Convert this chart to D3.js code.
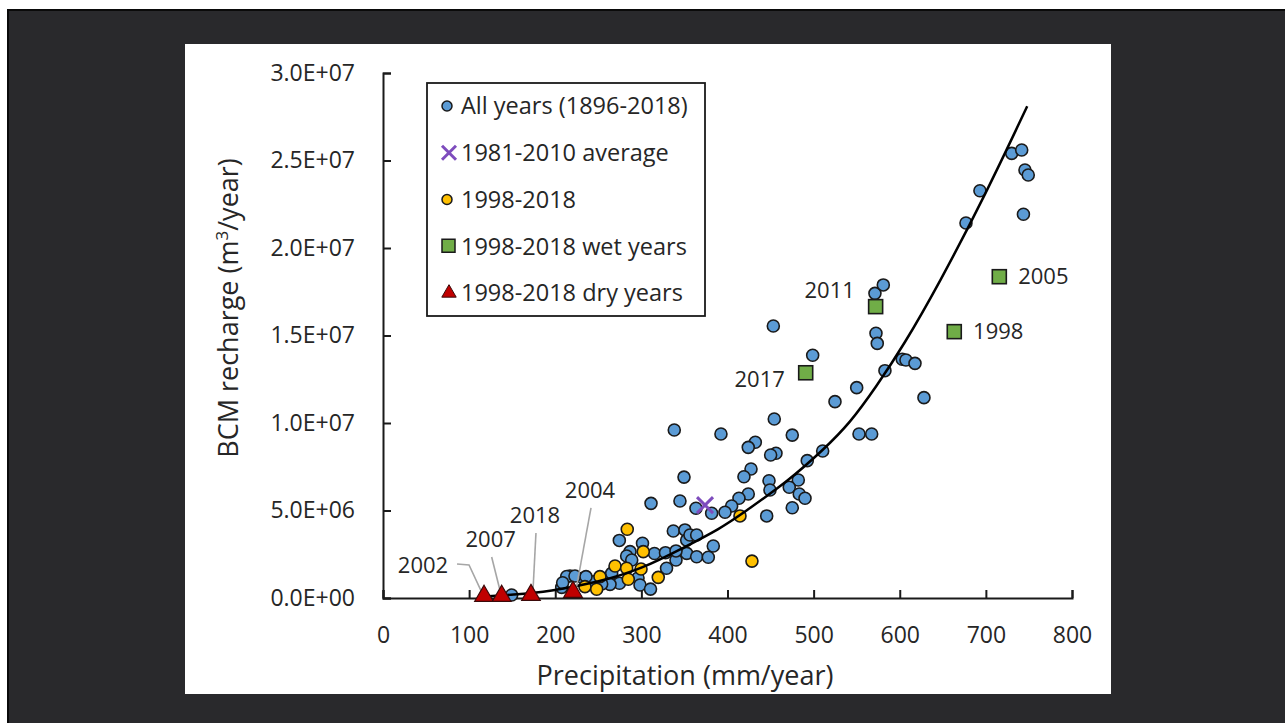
<!DOCTYPE html>
<html>
<head>
<style>
  body { margin: 0; background: #fff; }
  svg text { font-family: "Open Sans", "DejaVu Sans", sans-serif; fill: #262626; }
</style>
<script src="https://cdn.jsdelivr.net/npm/d3@7"></script>
</head>
<body>
<svg width="1285" height="723"></svg>
<script>
// precipitation (mm/year) and BCM recharge (m3/year), all years 1896-2018
var allPrecip = [730.0, 741.6, 745.4, 749.2, 693.1, 676.9, 743.6, 571.2, 580.9, 453.2, 572.4, 573.9, 498.9, 602.9, 607.2,
  617.7, 582.8, 550.0, 524.8, 628.1, 454.3, 338.2, 392.4, 475.2, 552.7, 567.4, 432.3, 424.1, 456.3, 450.1, 510.5, 492.6,
  427.3, 419.1, 349.5, 448.2, 449.3, 482.2, 471.7, 483.3, 490.0, 424.1, 413.3, 404.8, 397.1, 381.6, 363.4, 475.2, 445.5,
  311.2, 344.8, 337.1, 350.6, 274.4, 383.5, 352.6, 356.4, 364.2, 301.3, 286.8, 282.9, 315.2, 328.0, 352.6, 364.2, 377.7,
  340.2, 288.8, 329.2, 296.1, 298.4, 310.6, 261.6, 265.5, 274.6, 263.6, 244.2, 232.6, 217.1, 213.3, 222.9, 235.7, 207.5,
  208.6, 149.4, 253.9, 340.2];
var allRecharge = [25.41e6, 25.6e6, 24.46e6, 24.17e6, 23.27e6, 21.43e6, 21.93e6, 17.41e6, 17.89e6, 15.54e6, 15.13e6, 14.55e6,
  13.87e6, 13.64e6, 13.6e6, 13.41e6, 12.99e6, 12.02e6, 11.22e6, 11.45e6, 10.23e6, 9.6e6, 9.37e6, 9.31e6, 9.37e6, 9.37e6,
  8.9e6, 8.61e6, 8.27e6, 8.17e6, 8.4e6, 7.85e6, 7.37e6, 6.93e6, 6.91e6, 6.7e6, 6.17e6, 6.74e6, 6.33e6, 5.94e6, 5.7e6,
  5.94e6, 5.7e6, 5.26e6, 4.9e6, 4.84e6, 5.13e6, 5.16e6, 4.69e6, 5.41e6, 5.54e6, 3.83e6, 3.89e6, 3.29e6, 2.97e6, 3.31e6,
  3.6e6, 3.6e6, 3.13e6, 2.65e6, 2.4e6, 2.54e6, 2.59e6, 2.55e6, 2.36e6, 2.33e6, 2.17e6, 2.17e6, 1.7e6, 1.14e6, 0.74e6,
  0.51e6, 1.03e6, 1.41e6, 0.84e6, 0.78e6, 0.93e6, 1.13e6, 1.26e6, 1.23e6, 1.26e6, 1.22e6, 0.61e6, 0.87e6, 0.17e6,
  0.8e6, 2.69e6];

// 1981-2010 average
var avgPrecip = [373.9];
var avgRecharge = [5.31e6];

// 1998-2018
var recentPrecip = [283.6, 302.2, 269.4, 282.9, 299.6, 319.6, 284.8, 251.9, 234.5, 248.1, 414.5, 428.4];
var recentRecharge = [3.93e6, 2.65e6, 1.83e6, 1.7e6, 1.66e6, 1.18e6, 1.07e6, 1.22e6, 0.65e6, 0.5e6, 4.69e6, 2.11e6];

// 1998-2018 wet years
var wetYears = ["2011", "2017", "1998", "2005"];
var wetPrecip = [572.0, 490.8, 663.3, 715.6];
var wetRecharge = [16.65e6, 12.87e6, 15.22e6, 18.36e6];

// 1998-2018 dry years
var dryYears = ["2002", "2007", "2018", "2004"];
var dryPrecip = [117.3, 137.8, 171.8, 220.6];
var dryRecharge = [0.06e6, 0.06e6, 0.11e6, 0.29e6];

// trend line
var trendPrecip = [117, 150, 194, 250, 300, 350, 391, 418, 472, 511, 542, 573, 604, 645, 700, 748];
var trendRecharge = [0.08e6, 0.18e6, 0.38e6, 0.9e6, 1.65e6, 2.9e6, 3.95e6, 4.85e6, 6.74e6, 8.46e6, 9.98e6, 12.1e6,
  14.4e6, 17.9e6, 23.1e6, 28.1e6];

var xTicks = [0, 100, 200, 300, 400, 500, 600, 700, 800];
var yTicks = [0, 5e6, 10e6, 15e6, 20e6, 25e6, 30e6];

var legendLabels = ["All years (1896-2018)", "1981-2010 average", "1998-2018", "1998-2018 wet years", "1998-2018 dry years"];

// label placement in px relative to marker (layout only)
var wetLabelOffset = { "2011": [-46, -16], "2017": [-46, 7], "1998": [44, 0], "2005": [44, 0] };
var dryLabelOffset = {
  "2002": { text: [-61, -32], line: [[-27, -33], [-15, -32], [-2, -4]] },
  "2007": { text: [-11, -58], line: [[-10, -40], [-1, -4]] },
  "2018": { text: [4, -81], line: [[5, -63], [2, -5]] },
  "2004": { text: [17, -103], line: [[18, -85], [3, -3]] }
};

var svg = d3.select("svg");

// slide background
svg.append("rect").attr("x", 8).attr("y", 10).attr("width", 1290).attr("height", 720)
  .attr("fill", "#29292c").attr("stroke", "#0a0a0a").attr("stroke-width", 2);
svg.append("rect").attr("x", 185).attr("y", 44).attr("width", 926).attr("height", 650).attr("fill", "#fff");

var x = d3.scaleLinear().domain([0, 800]).range([383, 1072]);
var y = d3.scaleLinear().domain([0, 3e7]).range([598, 73]);

function sci(v) {
  if (v === 0) return "0.0E+00";
  var e = Math.floor(Math.log10(v));
  var m = v / Math.pow(10, e);
  return m.toFixed(1) + "E+" + (e < 10 ? "0" + e : e);
}

// axes
var xAxis = svg.append("g").attr("transform", "translate(0," + y(0) + ")")
  .call(d3.axisBottom(x).tickValues(xTicks).tickSizeInner(-8).tickSizeOuter(-8).tickPadding(28).tickFormat(d3.format("d")));
var yAxis = svg.append("g").attr("transform", "translate(" + x(0) + ",0)")
  .call(d3.axisLeft(y).tickValues(yTicks).tickSizeInner(-8).tickSizeOuter(-8).tickPadding(28).tickFormat(sci));
[xAxis, yAxis].forEach(function(a) {
  a.selectAll("path, line").attr("stroke", "#1a1a1a").attr("stroke-width", 2);
  a.selectAll("text").style("font-size", "23px").attr("fill", "#262626").style("font-family", '"Open Sans", sans-serif');
});
xAxis.selectAll("text").attr("dy", "0.35em").attr("y", 37);

svg.append("text").attr("x", 685).attr("y", 685).attr("text-anchor", "middle")
  .style("font-size", "27px").text("Precipitation (mm/year)");
var yt = svg.append("text").attr("transform", "translate(238,308) rotate(-90)").attr("text-anchor", "middle")
  .style("font-size", "27px");
yt.append("tspan").text("BCM recharge (m");
yt.append("tspan").attr("dy", -10).style("font-size", "17px").text("3");
yt.append("tspan").attr("dy", 10).text("/year)");

var circleStroke = "#1a1a1a";

// all years
var all = allPrecip.map(function(p, i) { return [p, allRecharge[i]]; });
svg.append("g").selectAll("circle").data(all).enter().append("circle")
  .attr("cx", function(d) { return x(d[0]); })
  .attr("cy", function(d) { return y(d[1]); })
  .attr("r", 6).attr("fill", "#5b9bd5").attr("stroke", circleStroke).attr("stroke-width", 1.6);

// 1998-2018
var recent = recentPrecip.map(function(p, i) { return [p, recentRecharge[i]]; });
svg.append("g").selectAll("circle").data(recent).enter().append("circle")
  .attr("cx", function(d) { return x(d[0]); })
  .attr("cy", function(d) { return y(d[1]); })
  .attr("r", 6).attr("fill", "#ffc000").attr("stroke", circleStroke).attr("stroke-width", 1.6);

// trend line
var trend = trendPrecip.map(function(p, i) { return [p, trendRecharge[i]]; });
svg.append("path").datum(trend)
  .attr("d", d3.line().x(function(d) { return x(d[0]); }).y(function(d) { return y(d[1]); }).curve(d3.curveBasis))
  .attr("fill", "none").attr("stroke", "#000").attr("stroke-width", 2.5);

// average
var xPath = "M-8,-8L8,8M-8,8L8,-8";
svg.append("g").selectAll("path").data(avgPrecip).enter().append("path")
  .attr("transform", function(d, i) { return "translate(" + x(d) + "," + y(avgRecharge[i]) + ")"; })
  .attr("d", xPath).attr("stroke", "#7e4cbd").attr("stroke-width", 3).attr("fill", "none");

// dry years: leaders, markers, labels
var triangle = d3.symbol().type(d3.symbolTriangle).size(150);
dryYears.forEach(function(yr, i) {
  var cx = x(dryPrecip[i]), cy = y(dryRecharge[i]);
  var o = dryLabelOffset[yr];
  svg.append("polyline")
    .attr("points", o.line.map(function(p) { return (cx + p[0]) + "," + (cy + p[1]); }).join(" "))
    .attr("fill", "none").attr("stroke", "#a6a6a6").attr("stroke-width", 1.6);
  svg.append("text").attr("x", cx + o.text[0]).attr("y", cy + o.text[1]).attr("dy", "0.35em")
    .attr("text-anchor", "middle").style("font-size", "22px").text(yr);
});
svg.append("g").selectAll("path").data(dryPrecip).enter().append("path")
  .attr("transform", function(d, i) { return "translate(" + x(d) + "," + (y(dryRecharge[i]) - 1) + ")"; })
  .attr("d", triangle).attr("fill", "#c00000").attr("stroke", "#3b0a0a").attr("stroke-width", 1.2);

// wet years
svg.append("g").selectAll("rect").data(wetPrecip).enter().append("rect")
  .attr("x", function(d) { return x(d) - 7; })
  .attr("y", function(d, i) { return y(wetRecharge[i]) - 7; })
  .attr("width", 14).attr("height", 14)
  .attr("fill", "#70ad47").attr("stroke", circleStroke).attr("stroke-width", 1.6);
wetYears.forEach(function(yr, i) {
  var o = wetLabelOffset[yr];
  svg.append("text").attr("x", x(wetPrecip[i]) + o[0]).attr("y", y(wetRecharge[i]) + o[1]).attr("dy", "0.35em")
    .attr("text-anchor", "middle").style("font-size", "22px").text(yr);
});

// legend
var lg = svg.append("g");
lg.append("rect").attr("x", 427).attr("y", 83).attr("width", 278).attr("height", 233)
  .attr("fill", "#fff").attr("stroke", "#1a1a1a").attr("stroke-width", 1.8);
var rowY = d3.scalePoint().domain(d3.range(legendLabels.length)).range([106, 293]);
legendLabels.forEach(function(lab, i) {
  var ly = rowY(i), lx = 447;
  if (i === 0 || i === 2) {
    lg.append("circle").attr("cx", lx).attr("cy", ly).attr("r", 5)
      .attr("fill", i === 0 ? "#5b9bd5" : "#ffc000").attr("stroke", circleStroke).attr("stroke-width", 1.5);
  } else if (i === 1) {
    lg.append("path").attr("transform", "translate(" + (lx + 2) + "," + ly + ")").attr("d", "M-7,-7L7,7M-7,7L7,-7")
      .attr("stroke", "#7e4cbd").attr("stroke-width", 3);
  } else if (i === 3) {
    lg.append("rect").attr("x", lx - 5).attr("y", ly - 7).attr("width", 13).attr("height", 13)
      .attr("fill", "#70ad47").attr("stroke", circleStroke).attr("stroke-width", 1.5);
  } else {
    lg.append("path").attr("transform", "translate(" + (lx + 2) + "," + ly + ")")
      .attr("d", d3.symbol().type(d3.symbolTriangle).size(90))
      .attr("fill", "#c00000").attr("stroke", "#3b0a0a").attr("stroke-width", 1);
  }
  lg.append("text").attr("x", 461).attr("y", ly).attr("dy", "0.36em").style("font-size", "23.5px").text(lab);
});
</script>
</body>
</html>
